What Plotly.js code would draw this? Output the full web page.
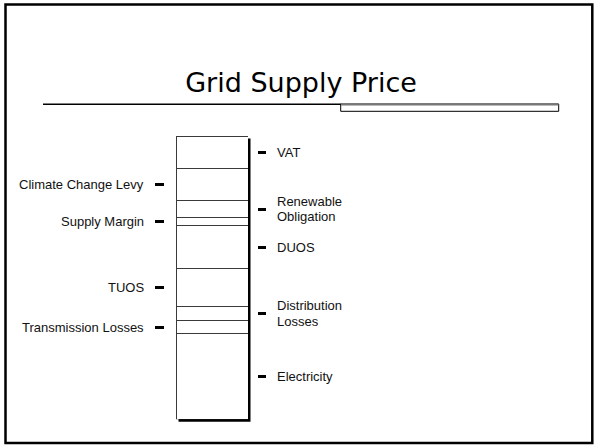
<!DOCTYPE html>
<html>
<head>
<meta charset="utf-8">
<script src="https://cdn.plot.ly/plotly-3.0.1.min.js"></script>
<style>
html,body{margin:0;padding:0;background:#fff;}
#chart{width:594px;height:445px;}
</style>
</head>
<body>
<div id="chart"></div>
<script>
// Stack segments, bottom to top
const segments = ['Electricity','Transmission Losses','Distribution Losses','TUOS','DUOS','Supply Margin','Renewable Obligation','Climate Change Levy','VAT'];
const values = [30.1, 4.8, 4.8, 13.4, 15.2, 2.8, 6.1, 11.2, 11.5];
const labelSide = ['right','left','right','left','right','left','right','left','right'];
const labelLines = [['Electricity'],['Transmission Losses'],['Distribution','Losses'],['TUOS'],['DUOS'],['Supply Margin'],['Renewable','Obligation'],['Climate Change Levy'],['VAT']];
const titleText = 'Grid Supply Price';

const W = 594, H = 445;
const px = x => x / W;
const py = y => 1 - y / H;

const total = values.reduce((a, b) => a + b, 0);
const mids = [];
let acc = 0;
values.forEach(v => { mids.push(acc + v / 2); acc += v; });

const leftMids = mids.filter((m, i) => labelSide[i] === 'left');
const rightMids = mids.filter((m, i) => labelSide[i] === 'right');

const traces = segments.map((name, i) => ({
  type: 'bar', name: name, x: [0], y: [values[i]], width: [1],
  marker: {color: '#ffffff', line: {color: '#3a3a3a', width: 1}},
  hoverinfo: 'skip', showlegend: false
}));
traces.push({type: 'scatter', x: [0], y: [0], xaxis: 'x', yaxis: 'y2', mode: 'markers',
  marker: {opacity: 0}, hoverinfo: 'skip', showlegend: false});

const labelFont = {family: 'Liberation Sans, Arial, sans-serif', size: 13, color: '#111'};
const annotations = [];
labelLines.forEach((lines, i) => {
  const left = labelSide[i] === 'left';
  const n = lines.length;
  lines.forEach((t, k) => {
    const shift = n === 1 ? 0 : (k === 0 ? 7.6 : -7.6);
    annotations.push({
      xref: 'paper', yref: 'y', x: left ? px(145) : px(276), y: mids[i],
      xanchor: left ? 'right' : 'left', yanchor: 'middle', yshift: shift,
      text: t, showarrow: false, font: labelFont, borderpad: 0
    });
  });
});

const shapes = [
  // slide border
  {type: 'rect', xref: 'paper', yref: 'paper', x0: px(5.5), x1: px(592.3), y0: py(4.5), y1: py(443), line: {color: '#000', width: 2.5}, fillcolor: 'rgba(0,0,0,0)'},
  // title rule
  {type: 'line', xref: 'paper', yref: 'paper', x0: px(43), x1: px(341), y0: py(104.3), y1: py(104.3), line: {color: '#000', width: 1.5}},
  {type: 'rect', xref: 'paper', yref: 'paper', x0: px(340.7), x1: px(558.7), y0: py(104), y1: py(111.3), line: {color: '#000', width: 1}, fillcolor: '#fff'},
  {type: 'line', xref: 'paper', yref: 'paper', x0: px(341), x1: px(558.5), y0: py(104.6), y1: py(104.6), line: {color: '#777', width: 2}},
  // bar drop shadow
  {type: 'rect', xref: 'paper', yref: 'paper', layer: 'below', x0: px(178.5), x1: px(250.5), y0: py(421.8), y1: py(138.5), line: {width: 0}, fillcolor: '#000'}
];

const layout = {
  width: W, height: H,
  margin: {l: 0, r: 0, t: 0, b: 0, pad: 0},
  paper_bgcolor: '#fff', plot_bgcolor: 'rgba(0,0,0,0)',
  barmode: 'stack', bargap: 0, showlegend: false,
  title: {text: titleText, x: px(301), xanchor: 'center', xref: 'paper', y: py(82.5), yref: 'container', yanchor: 'middle',
    font: {family: 'DejaVu Sans, sans-serif', size: 27, color: '#000'}},
  xaxis: {domain: [px(176), px(248)], range: [-0.5, 0.5], visible: false, fixedrange: true},
  yaxis: {domain: [(H - 419.3) / H, (H - 136) / H], range: [0, total], anchor: 'free', position: px(164), side: 'left',
    showgrid: false, zeroline: false, showline: false, ticks: 'outside', ticklen: 9, tickwidth: 3, tickcolor: '#000',
    tickmode: 'array', tickvals: leftMids, showticklabels: false, fixedrange: true},
  yaxis2: {overlaying: 'y', range: [0, total], anchor: 'free', position: px(257), side: 'right',
    showgrid: false, zeroline: false, showline: false, ticks: 'outside', ticklen: 8, tickwidth: 3, tickcolor: '#000',
    tickmode: 'array', tickvals: rightMids, showticklabels: false, fixedrange: true},
  annotations: annotations,
  shapes: shapes
};

Plotly.newPlot('chart', traces, layout, {displayModeBar: false, staticPlot: true});
</script>
</body>
</html>
